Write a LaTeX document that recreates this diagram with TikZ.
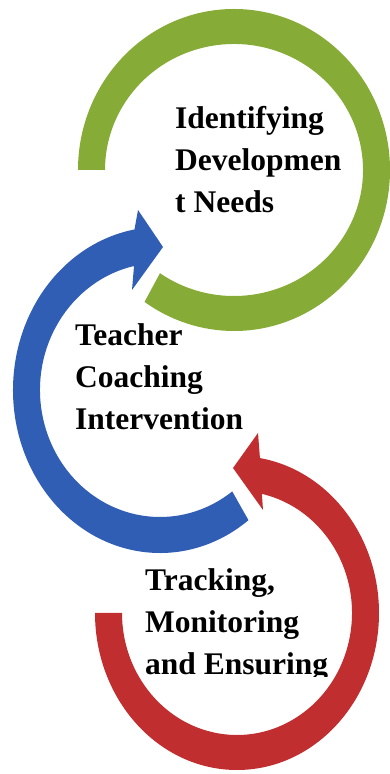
\documentclass[tikz,border=0pt]{standalone}
\usepackage{fontspec}
\setmainfont{Liberation Serif}
\usetikzlibrary{calc}
\definecolor{ringgreen}{RGB}{134,172,55}
\definecolor{ringblue}{RGB}{48,94,181}
\definecolor{ringred}{RGB}{193,46,48}
\begin{document}
\begin{tikzpicture}[x=1pt,y=1pt,
  steplabel/.style={anchor=base west, inner sep=0pt, align=left,
    font=\fontsize{31.5}{42}\selectfont\bfseries}]
\useasboundingbox (0,0) rectangle (389,774);

% ring centres
\coordinate (gc) at (234,604);
\coordinate (bc) at (160,384);
\coordinate (rc) at (237,161);

% green ring (open, no head)
\fill[ringgreen]
  ($(gc)+(180:156pt and 161pt)$)
  arc[start angle=180, end angle=-125, x radius=156pt, y radius=161pt]
  -- ($(gc)+(-125:129pt and 126pt)$)
  arc[start angle=-125, end angle=180, x radius=129pt, y radius=126pt]
  -- cycle;

% blue curved arrow, head pointing right at the top
\coordinate (bouter) at (138,564);
\coordinate (btip)   at (163,527);
\coordinate (binner) at (132,484);
\fill[ringblue]
  ($(bc)+(-53:147pt and 163pt)$)
  arc[start angle=-53, end angle=-260, x radius=147pt, y radius=163pt]
  -- (bouter) -- (btip) -- (binner)
  -- ($(bc)+(-257.5:120pt and 127pt)$)
  arc[start angle=-257.5, end angle=-53, x radius=120pt, y radius=127pt]
  -- cycle;

% red curved arrow, head pointing left at the top
\coordinate (router) at (258,341);
\coordinate (rtip)   at (233,306);
\coordinate (rinner) at (263,264);
\fill[ringred]
  ($(rc)+(180:142pt and 157pt)$)
  arc[start angle=180, end angle=440.7, x radius=142pt, y radius=157pt]
  -- (router) -- (rtip) -- (rinner)
  -- ($(rc)+(437.5:115pt and 122pt)$)
  arc[start angle=437.5, end angle=180, x radius=115pt, y radius=122pt]
  -- cycle;

% labels (base anchor sits on the last line)
\node[steplabel] (needs) at (175,561) {Identifying\\Developmen\\t Needs};
\node[steplabel] (coach) at (75,344) {Teacher\\Coaching\\Intervention};
\begin{scope}
  \clip (0,97) rectangle (389,774);
  \node[steplabel] (track) at (145,99) {Tracking,\\Monitoring\\and Ensuring};
\end{scope}
\end{tikzpicture}
\end{document}
